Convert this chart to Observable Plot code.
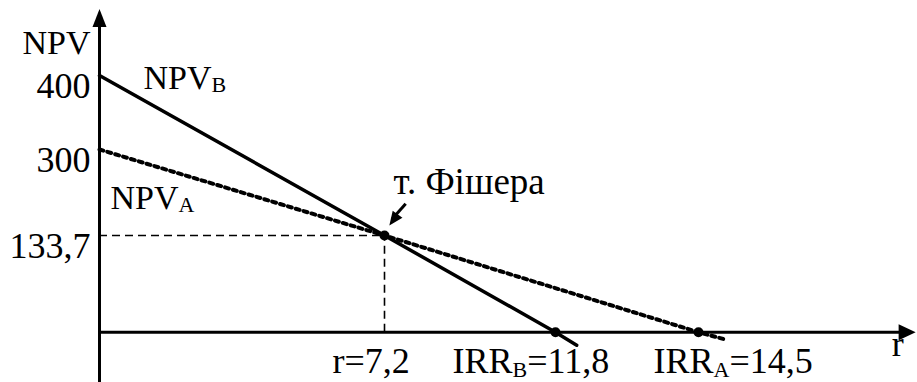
<!DOCTYPE html>
<html>
<head>
<meta charset="utf-8">
<script src="https://cdn.jsdelivr.net/npm/d3@7"></script>
<script src="https://cdn.jsdelivr.net/npm/@observablehq/plot@0.6"></script>
<style>
  html, body { margin: 0; padding: 0; background: #fff; }
</style>
</head>
<body>
<div id="chart"></div>
<script>
// NPV profiles of two projects against the discount rate r (%)
const rB = [0, 7.2, 11.8, 12.2];
const npvB = [400, 133.7, 0, -18];
const rA = [0, 7.2, 14.5, 15.0];
const npvA = [300, 133.7, 0, -10];

// Fisher intersection point and the internal rates of return
const fisherR = 7.2;
const fisherNPV = 133.7;
const irrB = 11.8;
const irrA = 14.5;

// Tick labels on the NPV axis
const yTickValues = [400, 300, 133.7];
const yTickLabels = ["400", "300", "133,7"];

// Labels under the rate axis
const rateLabels = ["r=7,2", "IRR_B=11,8", "IRR_A=14,5"];

// Axis extents (arrow tips)
const rMax = 18.6;
const npvTop = 490;
const npvBottom = -80;

const font = "'Liberation Serif', 'Times New Roman', serif";

// Filled arrowheads with the tip at the symbol origin
const arrowUp = {draw(ctx) { ctx.moveTo(0, 0); ctx.lineTo(-7, 18); ctx.lineTo(7, 18); ctx.closePath(); }};
const arrowRight = {draw(ctx) { ctx.moveTo(0, 0); ctx.lineTo(-17, -8); ctx.lineTo(-17, 8); ctx.closePath(); }};
function arrowToward(dx, dy, len, half) {
  const a = Math.atan2(dy, dx), c = Math.cos(a), s = Math.sin(a);
  return {draw(ctx) {
    ctx.moveTo(0, 0);
    ctx.lineTo(-len * c + half * s, -len * s - half * c);
    ctx.lineTo(-len * c - half * s, -len * s + half * c);
    ctx.closePath();
  }};
}
const fisherArrowHead = arrowToward(-16, 22, 14, 6);

const label = (text, x, y, opts) =>
  Plot.text([text], {x, y, text: d => d, lineAnchor: "bottom", ...opts});

const chart = Plot.plot({
  width: 917,
  height: 382,
  margin: 0,
  style: {fontFamily: font, fontSize: "36px", color: "black", background: "white"},
  x: {type: "linear", domain: [0, 7.2, 11.8, 14.5], range: [99, 384, 555, 698], axis: null},
  y: {type: "linear", domain: [0, 133.7, 300, 400], range: [331.7, 235, 149, 75], axis: null},
  marks: [
    // dashed guides to the Fisher point
    Plot.ruleY([fisherNPV], {x1: 0, x2: fisherR, stroke: "black", strokeWidth: 1.6, strokeDasharray: "8,5"}),
    Plot.ruleX([fisherR], {y1: 0, y2: fisherNPV, stroke: "black", strokeWidth: 1.6, strokeDasharray: "8,5"}),
    // axes
    Plot.ruleY([0], {x1: 0, x2: rMax - 0.2, stroke: "black", strokeWidth: 3}),
    Plot.ruleX([0], {y1: npvBottom, y2: npvTop - 10, stroke: "black", strokeWidth: 3}),
    Plot.dot([0], {x: 0, y: npvTop, symbol: arrowUp, fill: "black", stroke: "none"}),
    Plot.dot([0], {x: rMax, y: 0, symbol: arrowRight, fill: "black", stroke: "none"}),
    // project A (dotted) and project B (solid)
    Plot.line(rA, {x: rA, y: npvA, stroke: "black", strokeWidth: 4, strokeDasharray: "4,4.2"}),
    Plot.line(rB, {x: rB, y: npvB, stroke: "black", strokeWidth: 3.5}),
    // Fisher point and IRR points
    Plot.dot([fisherR], {x: fisherR, y: fisherNPV, r: 5, fill: "black", stroke: "none"}),
    Plot.dot([irrB, irrA], {x: d => d, y: 0, r: 5, fill: "black", stroke: "none"}),
    // pointer to the Fisher point
    Plot.link([0], {x1: 7.77, y1: 195, x2: 7.4, y2: 165, stroke: "black", strokeWidth: 3}),
    Plot.dot([0], {x: 7.33, y: 153, symbol: fisherArrowHead, fill: "black", stroke: "none"}),
    // NPV axis tick labels
    Plot.text(yTickValues, {x: 0, y: d => d, text: (d, i) => yTickLabels[i], textAnchor: "end", lineAnchor: "bottom", dx: -9, dy: 22}),
    // axis titles
    label("NPV", 0, 400, {textAnchor: "end", dx: -9, dy: -22, fontSize: 34}),
    label("r", rMax, 0, {textAnchor: "end", dx: -12, dy: 24}),
    // series labels
    label("NPV_B", 0, 400, {textAnchor: "start", dx: 44, dy: 13, fontSize: 34}),
    label("NPV_A", 0, 300, {textAnchor: "start", dx: 11, dy: 59, fontSize: 34}),
    label("т. Фішера", fisherR, fisherNPV, {textAnchor: "start", dx: 9, dy: -42, fontSize: 37}),
    // rate labels
    label(rateLabels[0], fisherR, 0, {textAnchor: "start", dx: -52, dy: 41}),
    label(rateLabels[1], irrB, 0, {textAnchor: "start", dx: -103, dy: 41}),
    label(rateLabels[2], irrA, 0, {textAnchor: "start", dx: -45, dy: 41})
  ]
});

// Render "_X" in a label as a subscript
chart.querySelectorAll("text").forEach(t => {
  const m = /^(.*?)_(\w)(.*)$/.exec(t.textContent);
  if (!m) return;
  t.textContent = "";
  const ns = "http://www.w3.org/2000/svg";
  const a = document.createElementNS(ns, "tspan"); a.textContent = m[1]; t.appendChild(a);
  const b = document.createElementNS(ns, "tspan"); b.textContent = m[2];
  b.setAttribute("font-size", "22px"); b.setAttribute("dy", "3.5"); t.appendChild(b);
  if (m[3]) {
    const c = document.createElementNS(ns, "tspan"); c.textContent = m[3];
    c.setAttribute("dy", "-3.5"); t.appendChild(c);
  }
});

document.getElementById("chart").appendChild(chart);
</script>
</body>
</html>
